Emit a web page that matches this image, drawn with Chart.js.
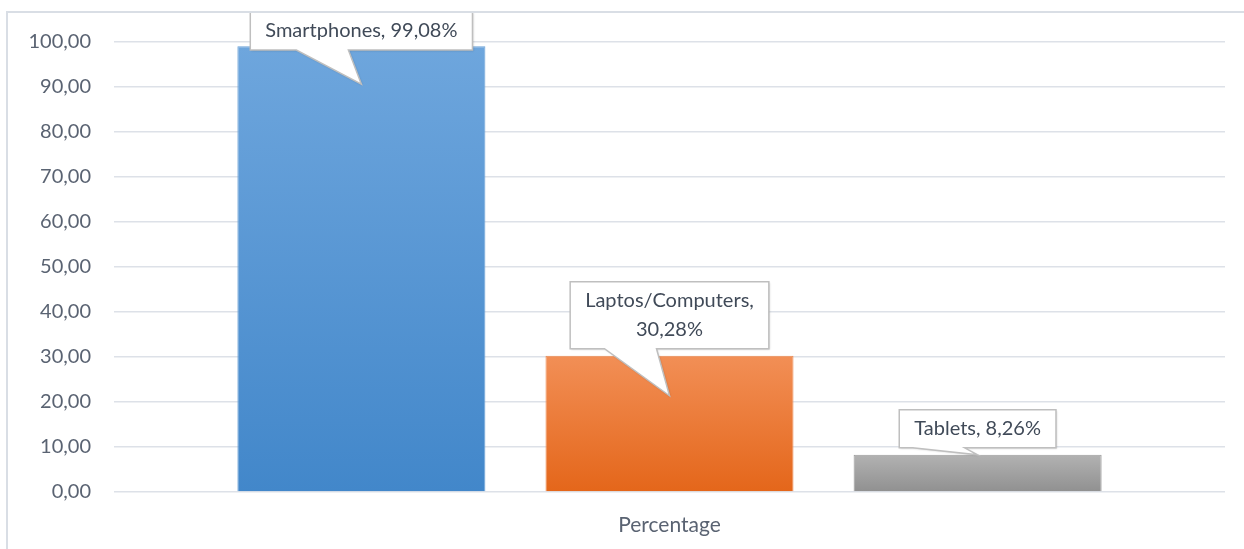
<!DOCTYPE html>
<html>
<head>
<meta charset="utf-8">
<script src="https://cdn.jsdelivr.net/npm/chart.js@4.4.1/dist/chart.umd.min.js"></script>
<style>
  html, body { margin: 0; padding: 0; background: #fff; }
  #wrap { width: 1244px; height: 549px; position: relative; }
</style>
</head>
<body>
<div id="wrap"><canvas id="chart"></canvas></div>
<script>
const categories = ['Percentage'];
const seriesNames = ['Smartphones', 'Laptos/Computers', 'Tablets'];
const seriesValues = [99.08, 30.28, 8.26];
const yTicks = [0, 10, 20, 30, 40, 50, 60, 70, 80, 90, 100];

const FONT = 'Lato, "Open Sans", sans-serif';
const fmt = v => v.toFixed(2).replace('.', ',');

// top / bottom colours of each bar gradient
const barColors = [
  ['#6ea6dd', '#4287ca'],
  ['#f28f56', '#e4661a'],
  ['#b2b2b2', '#909090']
];
const barEdges = ['#6aa1d6', '#ee8a50', '#9a9a9a'];
// how far the callout pointer reaches into the bar
const pointerDepth = [38, 40, 0];

function gradientFor(i) {
  return ctx => {
    const chart = ctx.chart;
    const ys = chart.scales.y;
    if (!chart.chartArea || !ys) return barColors[i][1];
    const top = ys.getPixelForValue(seriesValues[i]);
    const bottom = ys.getPixelForValue(0);
    if (!isFinite(top) || !isFinite(bottom) || top === bottom) return barColors[i][1];
    const g = chart.ctx.createLinearGradient(0, top, 0, bottom);
    g.addColorStop(0, barColors[i][0]);
    g.addColorStop(1, barColors[i][1]);
    return g;
  };
}

const frame = {
  id: 'frame',
  afterDraw(chart) {
    const c = chart.ctx;
    c.save();
    c.strokeStyle = '#d9dee5';
    c.lineWidth = 2;
    c.beginPath();
    c.moveTo(1244, 12);
    c.lineTo(7, 12);
    c.lineTo(7, 549);
    c.stroke();
    c.restore();
  }
};

const callouts = {
  id: 'callouts',
  afterDatasetsDraw(chart) {
    const c = chart.ctx;
    c.save();
    c.font = '20px ' + FONT;
    seriesNames.forEach((name, i) => {
      const el = chart.getDatasetMeta(i).data[0];
      if (!el) return;
      const full = name + ', ' + fmt(seriesValues[i]) + '%';
      const lines = c.measureText(full).width > 240 ? [name + ',', fmt(seriesValues[i]) + '%'] : [full];
      const w = Math.max(...lines.map(l => c.measureText(l).width)) + 30;
      const lh = 29;
      const h = lines.length * lh + 9;
      const cx = el.x;
      let bottom = el.y - 7;
      let top = bottom - h;
      if (top < 12) { top = 12; bottom = top + h; }
      const left = cx - w / 2, right = cx + w / 2;
      const tipY = el.y + pointerDepth[i];

      c.beginPath();
      c.moveTo(left, top);
      c.lineTo(right, top);
      c.lineTo(right, bottom);
      c.lineTo(cx - 13, bottom);
      c.lineTo(cx, tipY);
      c.lineTo(cx - 65, bottom);
      c.lineTo(left, bottom);
      c.closePath();
      c.shadowColor = 'rgba(0,0,0,0.18)';
      c.shadowBlur = 2;
      c.shadowOffsetX = 1;
      c.shadowOffsetY = 1;
      c.fillStyle = '#fff';
      c.fill();
      c.shadowColor = 'transparent';
      c.strokeStyle = '#bfbfbf';
      c.lineWidth = 1.5;
      c.stroke();

      c.fillStyle = '#404a58';
      c.textAlign = 'center';
      c.textBaseline = 'middle';
      lines.forEach((l, k) => c.fillText(l, cx, top + 4.5 + lh * (k + 0.5)));
    });
    c.restore();
  }
};

new Chart(document.getElementById('chart'), {
  type: 'bar',
  data: {
    labels: categories,
    datasets: seriesNames.map((name, i) => ({
      label: name,
      data: [seriesValues[i]],
      backgroundColor: gradientFor(i),
      borderColor: barEdges[i],
      borderWidth: 1,
      categoryPercentage: 0.832,
      barPercentage: 0.805
    }))
  },
  options: {
    responsive: true,
    maintainAspectRatio: false,
    animation: false,
    layout: { padding: { left: 0, right: 19, top: 42, bottom: 0 } },
    plugins: {
      legend: { display: false },
      tooltip: { enabled: false }
    },
    scales: {
      x: {
        grid: { display: false },
        border: { display: false },
        ticks: { color: '#5a6372', font: { family: FONT, size: 21 }, padding: 13 },
        afterFit: s => { s.height = 57; }
      },
      y: {
        min: 0,
        max: 100,
        afterBuildTicks: s => { s.ticks = yTicks.map(v => ({ value: v })); },
        grid: { color: '#dde1e8', lineWidth: 1.5, drawTicks: false },
        border: { display: false },
        ticks: {
          color: '#5a6372',
          font: { family: FONT, size: 20 },
          padding: 23,
          callback: v => fmt(v)
        },
        afterFit: s => { s.width = 114; }
      }
    }
  },
  plugins: [callouts, frame]
});
</script>
</body>
</html>
